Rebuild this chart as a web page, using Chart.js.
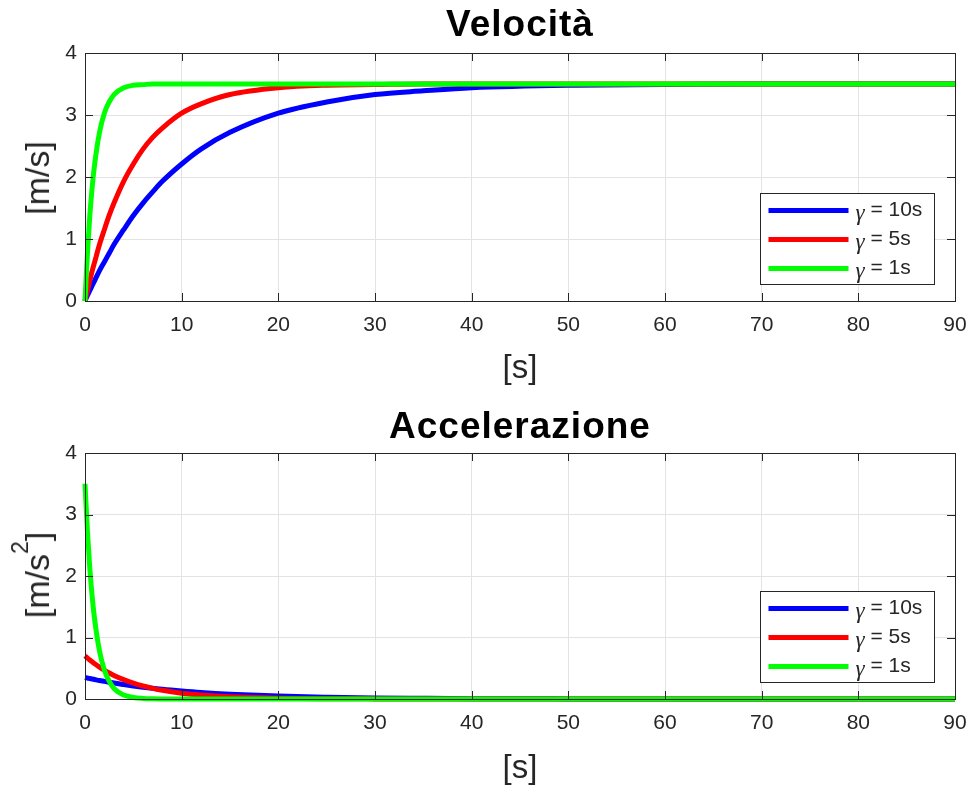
<!DOCTYPE html>
<html>
<head>
<meta charset="utf-8">
<script src="https://cdn.jsdelivr.net/npm/chart.js@4.4.1/dist/chart.umd.min.js"></script>
<style>
  body { margin: 0; background: #fff; }
  #wrap { position: relative; width: 972px; height: 789px; background: #fff; font-family: "Liberation Sans", Arial, sans-serif; }
  canvas { position: absolute; left: 0; }
  .title { position: absolute; left: 85px; width: 870px; text-align: center; font-weight: bold; font-size: 37px; letter-spacing: 1px; line-height: 37px; color: #000; white-space: nowrap; }
  .xlab { position: absolute; left: 85px; width: 870px; text-align: center; font-size: 33px; line-height: 33px; color: #262626; }
  .ylab { position: absolute; font-size: 34px; line-height: 34px; color: #262626; white-space: nowrap; transform: translate(-50%, -50%) rotate(-90deg); }
  .ylab span { font-size: 23px; line-height: 0; position: relative; top: -21px; }
</style>
</head>
<body>
<div id="wrap">
  <canvas id="velChart" width="972" height="400" style="top:0"></canvas>
  <canvas id="accChart" width="972" height="389" style="top:400px"></canvas>
  <div class="title" style="top:5px">Velocità</div>
  <div class="title" style="top:407px">Accelerazione</div>
  <div class="xlab" style="top:350px">[s]</div>
  <div class="xlab" style="top:750px">[s]</div>
  <div class="ylab" style="left:37px; top:178px">[m/s]</div>
  <div class="ylab" style="left:37px; top:575px">[m/s<span>2</span>]</div>
</div>
<script>
// DATA
const timeS = [0, 0.25, 0.5, 0.75, 1, 1.5, 2, 2.5, 3, 4, 5, 6, 7, 8, 10, 12, 15, 20, 25, 30, 35, 40, 50, 60, 70, 80, 90];

const vel10 = [0, 0.09, 0.17, 0.25, 0.33, 0.49, 0.63, 0.77, 0.91, 1.15, 1.38, 1.58, 1.76, 1.93, 2.21, 2.45, 2.72, 3.03, 3.21, 3.33, 3.39, 3.44, 3.48, 3.49, 3.50, 3.50, 3.50];
const vel5 = [0, 0.17, 0.33, 0.49, 0.63, 0.91, 1.15, 1.38, 1.58, 1.93, 2.21, 2.45, 2.64, 2.79, 3.03, 3.18, 3.33, 3.44, 3.48, 3.49, 3.50, 3.50, 3.50, 3.50, 3.50, 3.50, 3.50];
const vel1 = [0, 0.77, 1.38, 1.85, 2.21, 2.72, 3.03, 3.21, 3.33, 3.44, 3.48, 3.49, 3.50, 3.50, 3.50, 3.50, 3.50, 3.50, 3.50, 3.50, 3.50, 3.50, 3.50, 3.50, 3.50, 3.50, 3.50];

const acc10 = [0.35, 0.341, 0.333, 0.325, 0.317, 0.301, 0.287, 0.273, 0.259, 0.235, 0.212, 0.192, 0.174, 0.157, 0.129, 0.105, 0.078, 0.047, 0.029, 0.017, 0.011, 0.006, 0.002, 0.001, 0, 0, 0];
const acc5 = [0.70, 0.666, 0.633, 0.603, 0.573, 0.519, 0.469, 0.425, 0.384, 0.315, 0.258, 0.211, 0.173, 0.141, 0.095, 0.064, 0.035, 0.013, 0.005, 0.002, 0.001, 0, 0, 0, 0, 0, 0];
const acc1 = [3.50, 2.73, 2.12, 1.65, 1.29, 0.78, 0.47, 0.29, 0.17, 0.064, 0.024, 0.009, 0.003, 0.001, 0, 0, 0, 0, 0, 0, 0, 0, 0, 0, 0, 0, 0];

const seriesLabels = ["10s", "5s", "1s"];
const seriesColors = ["#0000ff", "#ff0000", "#00ff00"];

const xTicks = { min: 0, max: 90, step: 10 };
const yTicks = { min: 0, max: 4, step: 1 };

const FONT = "'Liberation Sans', Arial, sans-serif";
const AXIS = "#262626";

// box, inward ticks and legend like the original plot
const matlabLook = {
    id: "matlabLook",
    afterDraw(chart) {
        const ctx = chart.ctx;
        const a = chart.chartArea;
        const xs = chart.scales.x, ys = chart.scales.y;
        ctx.save();
        ctx.strokeStyle = AXIS;
        ctx.lineWidth = 1;
        ctx.beginPath();
        xs.ticks.forEach(t => {
            const px = Math.round(xs.getPixelForValue(t.value)) + 0.5;
            ctx.moveTo(px, a.bottom); ctx.lineTo(px, a.bottom - 8);
            ctx.moveTo(px, a.top); ctx.lineTo(px, a.top + 8);
        });
        ys.ticks.forEach(t => {
            const py = Math.round(ys.getPixelForValue(t.value)) + 0.5;
            ctx.moveTo(a.left, py); ctx.lineTo(a.left + 8, py);
            ctx.moveTo(a.right, py); ctx.lineTo(a.right - 8, py);
        });
        ctx.stroke();
        ctx.strokeRect(Math.round(a.left) + 0.5, Math.round(a.top) + 0.5, Math.round(a.right - a.left), Math.round(a.bottom - a.top));

        // legend
        const bw = 174, bh = 91;
        const bx = Math.round(a.right - 21 - bw) + 0.5;
        const by = Math.round(a.bottom - 17 - bh) + 0.5;
        ctx.fillStyle = "#fff";
        ctx.fillRect(bx, by, bw, bh);
        ctx.strokeRect(bx, by, bw, bh);
        const rows = [17, 46, 75];
        chart.data.datasets.forEach((ds, i) => {
            const y = by + rows[i];
            ctx.strokeStyle = ds.borderColor;
            ctx.lineWidth = 5;
            ctx.beginPath();
            ctx.moveTo(bx + 8, y); ctx.lineTo(bx + 88, y);
            ctx.stroke();
            ctx.fillStyle = AXIS;
            ctx.textBaseline = "middle";
            ctx.font = "italic 23px 'Liberation Serif', serif";
            ctx.fillText("\u03b3", bx + 95, y + 3);
            const gw = ctx.measureText("\u03b3").width;
            ctx.font = "21px " + FONT;
            ctx.fillText(" = " + seriesLabels[i], bx + 95 + gw, y);
        });
        ctx.restore();
    }
};

function makeChart(id, seriesList, padBottom) {
    const datasets = seriesList.map((vals, i) => ({
        label: "\u03b3 = " + seriesLabels[i],
        data: timeS.map((t, k) => ({ x: t, y: vals[k] })),
        borderColor: seriesColors[i],
        borderWidth: 5,
        pointRadius: 0,
        cubicInterpolationMode: "monotone",
        order: seriesList.length - 1 - i,
        clip: 6
    }));

    const tickFont = { family: FONT, size: 21 };
    new Chart(document.getElementById(id), {
        type: "line",
        data: { datasets },
        plugins: [matlabLook],
        options: {
            responsive: false,
            animation: false,
            layout: { padding: { top: 53, right: 17, left: 0, bottom: padBottom } },
            plugins: { legend: { display: false }, tooltip: { enabled: false } },
            scales: {
                x: {
                    type: "linear",
                    min: xTicks.min, max: xTicks.max,
                    ticks: { stepSize: xTicks.step, color: AXIS, font: tickFont, padding: 12, maxRotation: 0 },
                    grid: { color: "#e3e3e3", drawTicks: false },
                    border: { display: false },
                    afterFit: s => { s.height = 40; s.paddingLeft = 0; s.paddingRight = 0; }
                },
                y: {
                    min: yTicks.min, max: yTicks.max,
                    ticks: { stepSize: yTicks.step, color: AXIS, font: tickFont, padding: 8 },
                    grid: { color: "#e3e3e3", drawTicks: false },
                    border: { display: false },
                    afterFit: s => { s.width = 85; s.paddingTop = 0; s.paddingBottom = 0; }
                }
            }
        }
    });
}

// INIT
makeChart("velChart", [vel10, vel5, vel1], 59);
makeChart("accChart", [acc10, acc5, acc1], 50);
</script>
</body>
</html>
